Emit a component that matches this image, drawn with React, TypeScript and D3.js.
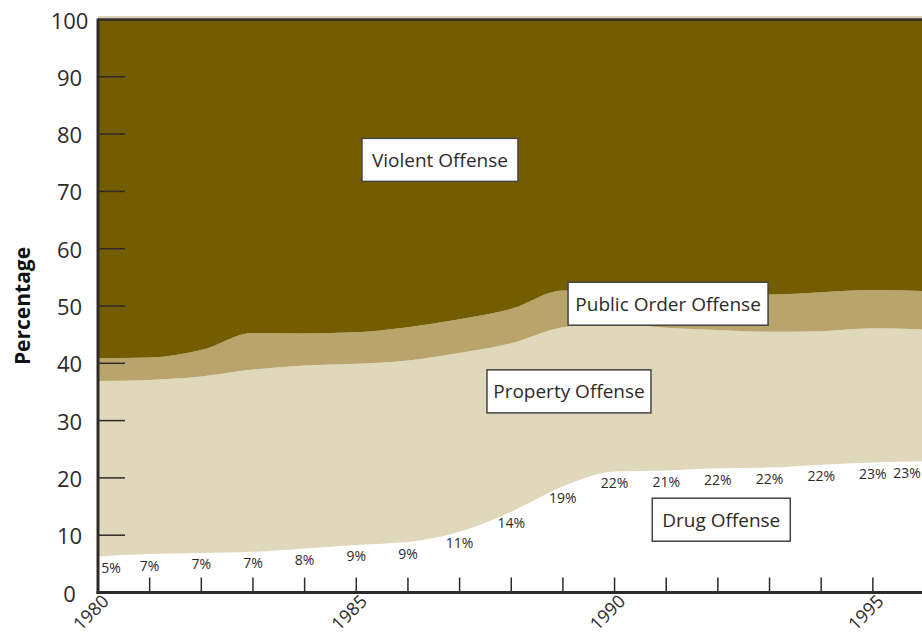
import React from "react"
import * as d3 from "d3"

// shares of sentenced prisoners by offense type (percent)
const years = [1980, 1981, 1982, 1983, 1984, 1985, 1986, 1987, 1988, 1989, 1990, 1991, 1992, 1993, 1994, 1995, 1996]
const drug = [6.3, 6.7, 6.9, 7.1, 7.7, 8.3, 8.8, 10.6, 14.1, 18.5, 21.1, 21.3, 21.7, 21.8, 22.3, 22.7, 22.9]
const property = [30.6, 30.4, 30.8, 31.8, 31.9, 31.6, 31.7, 31.2, 29.4, 27.8, 25.9, 24.9, 24.1, 23.7, 23.3, 23.4, 23.0]
const publicOrder = [4.0, 3.9, 4.6, 6.4, 5.6, 5.5, 5.8, 5.9, 6.0, 6.4, 5.6, 6.1, 6.3, 6.5, 6.8, 6.7, 6.7]
const violent = [59.1, 59.0, 57.7, 54.7, 54.8, 54.6, 53.7, 52.3, 50.5, 47.3, 47.4, 47.7, 47.9, 48.0, 47.6, 47.2, 47.4]
const drugLabels = ["5%", "7%", "7%", "7%", "8%", "9%", "9%", "11%", "14%", "19%", "22%", "21%", "22%", "22%", "22%", "23%", "23%"]
const yTicks = [0, 10, 20, 30, 40, 50, 60, 70, 80, 90, 100]
const xLabels = [1980, 1985, 1990, 1995]

const keys = ["drug", "property", "publicOrder", "violent"]
const colors: Record<string, string> = {
  drug: "#ffffff",
  property: "#e0d8bb",
  publicOrder: "#b9a46c",
  violent: "#745c00",
}

const FONT = "'Open Sans', 'Noto Sans', sans-serif"
const INK = "#2e2a2a"

export default function App() {
  const width = 922
  const height = 641

  const x = d3.scaleLinear().domain([1980, 1996]).range([98, 924.5])
  const y = d3.scaleLinear().domain([0, 100]).range([592.5, 19.5])

  const rows = years.map((yr, i) => ({
    year: yr,
    drug: drug[i],
    property: property[i],
    publicOrder: publicOrder[i],
    violent: violent[i],
  }))
  const series = d3.stack<any>().keys(keys)(rows)

  const area = d3
    .area<any>()
    .x((d) => x(d.data.year))
    .y0((d) => y(d[0]))
    .y1((d) => y(d[1]))
    .curve(d3.curveMonotoneX)

  // label boxes placed in data space
  const boxes = [
    { text: "Violent Offense", year: 1985.11, value: 75.5, w: 156 },
    { text: "Public Order Offense", year: 1989.1, value: 50.4, w: 200 },
    { text: "Property Offense", year: 1987.53, value: 35.1, w: 164 },
    { text: "Drug Offense", year: 1990.73, value: 12.7, w: 138 },
  ]

  return (
    <svg width={width} height={height} style={{ position: "absolute", left: 0, top: 0, background: "#fff" }}>
      {series.map((s) => (
        <path key={s.key} d={area(s) || ""} fill={colors[s.key]} />
      ))}

      {/* thin tan rule above the frame */}
      <line x1={x(1980)} x2={width} y1={y(100) - 2.5} y2={y(100) - 2.5} stroke="#b9a46c" strokeWidth={1} />
      <line x1={x(1980)} x2={width} y1={y(100)} y2={y(100)} stroke={INK} strokeWidth={2.5} />

      {/* y ticks inside */}
      {yTicks
        .filter((t) => t > 0 && t < 100)
        .map((t) => (
          <line key={t} x1={x(1980)} x2={x(1980) + 27} y1={y(t)} y2={y(t)} stroke={INK} strokeWidth={1.5} />
        ))}
      {yTicks.map((t) => (
        <text key={t} x={69.5} y={y(t)} textAnchor="middle" dominantBaseline="central" fontFamily={FONT} fontSize={22} fill={INK}>
          {t}
        </text>
      ))}

      {/* x ticks inside */}
      {years
        .filter((yr) => yr > 1980 && yr < 1996)
        .map((yr) => (
          <line key={yr} x1={x(yr)} x2={x(yr)} y1={y(0)} y2={y(0) - 15} stroke={INK} strokeWidth={1.5} />
        ))}
      {xLabels.map((yr) => (
        <text
          key={yr}
          transform={`translate(${x(yr) + 7},${y(0) + 5}) rotate(-45)`}
          textAnchor="end"
          dominantBaseline="central"
          fontFamily={FONT}
          fontSize={18}
          fill={INK}
        >
          {yr}
        </text>
      ))}

      {/* axes */}
      <line x1={x(1980)} x2={x(1980)} y1={y(100) - 1} y2={y(0) + 1.5} stroke={INK} strokeWidth={3} />
      <line x1={x(1980) - 1.5} x2={width} y1={y(0)} y2={y(0)} stroke={INK} strokeWidth={3} />

      {/* drug share labels */}
      {years.map((yr, i) => (
        <text
          key={yr}
          x={Math.min(Math.max(x(yr), 111), 907)}
          y={y(drug[i]) + 11}
          textAnchor="middle"
          dominantBaseline="central"
          fontFamily={FONT}
          fontSize={14}
          fill={INK}
        >
          {drugLabels[i]}
        </text>
      ))}

      {boxes.map((b) => (
        <g key={b.text}>
          <rect x={x(b.year)} y={y(b.value) - 21.5} width={b.w} height={43} fill="#fff" stroke="#444" strokeWidth={1.5} />
          <text
            x={x(b.year) + b.w / 2}
            y={y(b.value)}
            textAnchor="middle"
            dominantBaseline="central"
            fontFamily={FONT}
            fontSize={19}
            fill={INK}
          >
            {b.text}
          </text>
        </g>
      ))}

      <text
        transform={`translate(22,${(y(0) + y(100)) / 2}) rotate(-90)`}
        textAnchor="middle"
        dominantBaseline="central"
        fontFamily={FONT}
        fontWeight="bold"
        fontSize={21}
        fill="#111"
      >
        Percentage
      </text>
    </svg>
  )
}
